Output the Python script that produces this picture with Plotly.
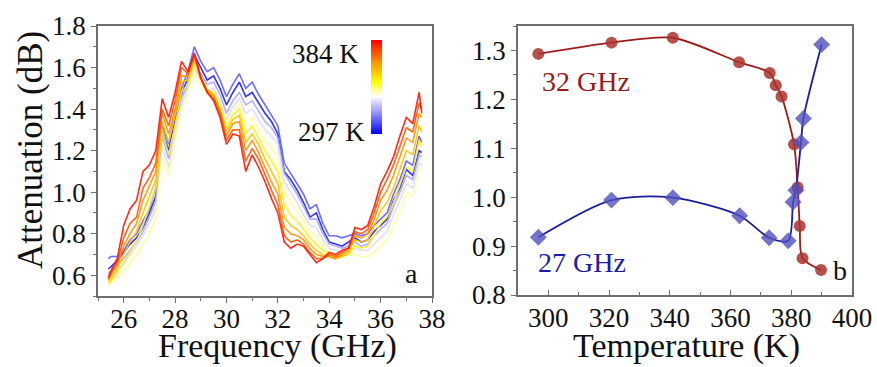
import numpy as np
import plotly.graph_objects as go

# ---------------- Panel a: attenuation spectra ----------------
freq = [25.4, 25.5, 25.75, 26.0, 26.25, 26.5, 26.75, 27.0, 27.25, 27.5, 27.75, 28.0,
        28.25, 28.5, 28.75, 29.0, 29.25, 29.5, 29.75, 30.0, 30.25, 30.5, 30.75, 31.0,
        31.25, 31.5, 31.75, 32.0, 32.25, 32.5, 32.75, 33.0, 33.25, 33.5, 33.75, 34.0,
        34.25, 34.5, 34.75, 35.0, 35.25, 35.5, 35.75, 36.0, 36.25, 36.5, 36.75, 37.0,
        37.25, 37.5, 37.6]

att_297 = [.63, .64, .67, .71, .75, .78, .83, .90, .98, 1.30, 1.20, 1.35, 1.47, 1.55, 1.66, 1.60, 1.54,
           1.56, 1.50, 1.42, 1.48, 1.53, 1.46, 1.48, 1.43, 1.38, 1.34, 1.28, 1.10, 1.06, 1.01, .95, .88,
           .90, .82, .76, .75, .74, .76, .78, .76, .77, .81, .84, .87, .96, 1.02, 1.11, 1.08, 1.20, 1.19]
att_321 = [.68, .69, .69, .72, .77, .80, .86, .92, 1.02, 1.33, 1.23, 1.38, 1.50, 1.58, 1.70, 1.63, 1.58,
           1.60, 1.54, 1.46, 1.52, 1.57, 1.50, 1.53, 1.47, 1.42, 1.37, 1.32, 1.14, 1.09, 1.04, .99, .92,
           .94, .85, .79, .79, .78, .79, .80, .79, .80, .84, .87, .90, .99, 1.06, 1.15, 1.13, 1.27, 1.24]
att_341 = [.61, .62, .65, .68, .72, .76, .81, .88, .96, 1.27, 1.16, 1.32, 1.45, 1.52, 1.64, 1.57, 1.52,
           1.53, 1.47, 1.38, 1.44, 1.48, 1.42, 1.44, 1.39, 1.34, 1.31, 1.26, 1.09, 1.04, .99, .93, .87,
           .87, .80, .75, .74, .73, .74, .76, .74, .75, .79, .82, .85, .93, 1.00, 1.08, 1.06, 1.18, 1.17]
att_363 = [.58, .59, .62, .66, .70, .74, .79, .85, .92, 1.22, 1.12, 1.28, 1.42, 1.50, 1.60, 1.54, 1.49,
           1.50, 1.44, 1.35, 1.41, 1.45, 1.38, 1.40, 1.35, 1.30, 1.27, 1.23, 1.05, 1.00, .95, .89, .84,
           .83, .77, .73, .72, .71, .72, .73, .72, .72, .75, .78, .81, .89, .96, 1.04, 1.02, 1.14, 1.13]
att_373 = [.55, .56, .59, .62, .66, .70, .75, .80, .88, 1.17, 1.08, 1.25, 1.40, 1.47, 1.57, 1.52, 1.47,
           1.48, 1.42, 1.33, 1.39, 1.43, 1.32, 1.36, 1.30, 1.25, 1.21, 1.17, 1.00, .95, .91, .86, .81,
           .79, .74, .71, .70, .69, .70, .70, .69, .69, .71, .74, .77, .84, .91, 1.00, .98, 1.11, 1.10]
att_377 = [.56, .57, .61, .66, .71, .76, .84, .93, 1.02, 1.30, 1.18, 1.32, 1.48, 1.52, 1.62, 1.54, 1.49,
           1.48, 1.41, 1.31, 1.37, 1.40, 1.28, 1.32, 1.26, 1.20, 1.15, 1.10, .94, .89, .86, .82, .78,
           .75, .72, .70, .69, .69, .70, .74, .73, .74, .79, .85, .88, .95, 1.03, 1.12, 1.10, 1.25, 1.22]
att_379 = [.57, .58, .63, .70, .76, .81, .90, .98, 1.06, 1.34, 1.24, 1.37, 1.53, 1.54, 1.64, 1.55, 1.49,
           1.47, 1.40, 1.29, 1.35, 1.37, 1.24, 1.28, 1.23, 1.16, 1.10, 1.04, .88, .84, .82, .79, .75,
           .72, .70, .69, .68, .69, .71, .77, .76, .77, .84, .91, .95, 1.02, 1.11, 1.20, 1.18, 1.32, 1.29]
att_381 = [.58, .60, .65, .74, .80, .85, .96, 1.03, 1.10, 1.38, 1.28, 1.40, 1.56, 1.56, 1.65, 1.55, 1.49,
           1.46, 1.39, 1.27, 1.33, 1.34, 1.20, 1.25, 1.19, 1.12, 1.05, .99, .83, .80, .79, .77, .73,
           .70, .69, .69, .68, .70, .72, .79, .78, .80, .87, .96, 1.01, 1.08, 1.17, 1.26, 1.24, 1.38, 1.36]
att_383 = [.58, .61, .66, .78, .85, .88, 1.02, 1.07, 1.14, 1.40, 1.32, 1.44, 1.60, 1.57, 1.66, 1.55, 1.48,
           1.45, 1.38, 1.25, 1.30, 1.30, 1.15, 1.21, 1.16, 1.08, 1.01, .94, .79, .76, .77, .75, .71,
           .68, .68, .70, .69, .71, .73, .81, .80, .82, .90, 1.00, 1.06, 1.13, 1.22, 1.31, 1.29, 1.43, 1.40]
att_384 = [.59, .62, .68, .84, .92, .96, 1.10, 1.13, 1.20, 1.45, 1.36, 1.48, 1.63, 1.58, 1.67, 1.55, 1.48,
           1.44, 1.36, 1.23, 1.28, 1.27, 1.10, 1.18, 1.12, 1.05, .97, .90, .76, .73, .75, .74, .70,
           .66, .68, .71, .70, .72, .73, .83, .82, .84, .93, 1.04, 1.10, 1.17, 1.27, 1.36, 1.33, 1.48, 1.38]

spectra = [att_297, att_321, att_341, att_363, att_373, att_377, att_379, att_381, att_383, att_384]
spectra_colors = ["#1c1cff", "#5e5eff", "#a8a8ff", "#dcdcfa", "#ffff9a", "#ffef1a",
                  "#ffc400", "#ff9400", "#ff5a00", "#ff1400"]

# colour bar of panel a (temperature scale)
cbar_min, cbar_max = 297, 384
cbar_scale = [[0.0, "#0000ff"], [0.2, "#8484ff"], [0.4, "#ffffff"], [0.55, "#ffff00"],
              [0.75, "#ff9a00"], [1.0, "#ff0000"]]
cbar_levels = np.linspace(cbar_min, cbar_max, 88)

# ---------------- Panel b: attenuation vs temperature ----------------
temp_32 = [296.7, 320.8, 341.0, 362.8, 372.9, 374.9, 376.8, 380.9, 382.1, 382.8, 383.7, 389.8]
att_32 = [1.293, 1.316, 1.326, 1.276, 1.254, 1.229, 1.206, 1.108, 1.020, 0.941, 0.875, 0.851]
temp_27 = [296.7, 320.8, 341.0, 363.0, 372.7, 379.0, 380.6, 381.5, 383.2, 384.0, 390.0]
att_27 = [0.918, 0.994, 0.999, 0.962, 0.917, 0.911, 0.990, 1.014, 1.112, 1.161, 1.312]

FONT = "Times New Roman, Liberation Serif, DejaVu Serif, serif"
W, H = 877, 367
AX = "#6e6e6e"

fig = go.Figure()

for vals, col in zip(spectra, spectra_colors):
    fig.add_trace(go.Scatter(x=freq, y=vals, mode="lines", line=dict(color=col, width=1.6),
                             opacity=0.9, showlegend=False, xaxis="x", yaxis="y", hoverinfo="skip"))

# gradient bar drawn as a one-column heatmap on its own small axes
fig.add_trace(go.Heatmap(z=[[v] for v in cbar_levels], x=[0], y=list(cbar_levels),
                         colorscale=cbar_scale, zmin=cbar_min, zmax=cbar_max, showscale=False,
                         xaxis="x3", yaxis="y3", hoverinfo="skip"))

# panel b fits (smooth lines) and points
fig.add_trace(go.Scatter(x=temp_32, y=att_32, mode="lines", line=dict(color="#a01c1c", width=1.8,
                         shape="spline", smoothing=0.8), showlegend=False, xaxis="x2", yaxis="y2"))
fig.add_trace(go.Scatter(x=temp_27, y=att_27, mode="lines", line=dict(color="#1c1c9c", width=1.8,
                         shape="spline", smoothing=0.8), showlegend=False, xaxis="x2", yaxis="y2"))
fig.add_trace(go.Scatter(x=temp_32, y=att_32, mode="markers",
                         marker=dict(symbol="circle", size=12, color="rgba(170,50,45,0.85)"),
                         showlegend=False, xaxis="x2", yaxis="y2"))
fig.add_trace(go.Scatter(x=temp_27, y=att_27, mode="markers",
                         marker=dict(symbol="diamond", size=13, color="rgba(80,80,190,0.8)"),
                         showlegend=False, xaxis="x2", yaxis="y2"))

TICKFONT = dict(family=FONT, size=27, color="#111")
axis_common = dict(showgrid=False, zeroline=False, showline=True, linecolor=AX, linewidth=1.5,
                   mirror=True, ticklen=5, tickwidth=1.2, tickcolor=AX, tickfont=TICKFONT,
                   automargin=False)
hidden = dict(visible=False, showgrid=False, zeroline=False, fixedrange=True, automargin=False)

fig.update_layout(
    template="none",
    width=W, height=H, margin=dict(l=0, r=0, t=0, b=0, autoexpand=False),
    font=dict(family=FONT, size=27, color="#111"),
    paper_bgcolor="white", plot_bgcolor="white",
    xaxis=dict(domain=[98 / W, 432 / W], range=[25, 38], tickvals=[26, 28, 30, 32, 34, 36, 38],
               ticks="outside", ticklabelstandoff=-7,
               minor=dict(dtick=1, tick0=25, ticks="outside", ticklen=3, tickcolor=AX),
               anchor="y", **axis_common),
    yaxis=dict(domain=[1 - 296 / H, 1 - 26 / H], range=[0.5, 1.8],
               tickvals=[0.6, 0.8, 1.0, 1.2, 1.4, 1.6, 1.8], ticktext=["0.6", "0.8", "1.0", "1.2", "1.4", "1.6", "1.8"],
               ticks="outside",
               minor=dict(dtick=0.1, tick0=0.5, ticks="outside", ticklen=3, tickcolor=AX),
               anchor="x", **axis_common),
    xaxis2=dict(domain=[518 / W, 852 / W], range=[290, 400], tickvals=[300, 320, 340, 360, 380, 400],
                ticks="inside", ticklabelstandoff=-2,
                minor=dict(dtick=10, tick0=290, ticks="inside", ticklen=3, tickcolor=AX),
                anchor="y2", **axis_common),
    yaxis2=dict(domain=[1 - 295 / H, 1 - 26 / H], range=[0.8, 1.35],
                tickvals=[0.8, 0.9, 1.0, 1.1, 1.2, 1.3], ticktext=["0.8", "0.9", "1.0", "1.1", "1.2", "1.3"],
                ticks="outside",
                minor=dict(dtick=0.05, tick0=0.8, ticks="outside", ticklen=3, tickcolor=AX),
                anchor="x2", **axis_common),
    xaxis3=dict(domain=[371 / W, 382 / W], anchor="y3", **hidden),
    yaxis3=dict(domain=[1 - 134 / H, 1 - 40 / H], anchor="x3",
                range=[cbar_min, cbar_max], **hidden),
)

def ann(text, x, y, size=28, color="#111", xanchor="center", angle=0):
    fig.add_annotation(text=text, x=x / W, y=1 - y / H, xref="paper", yref="paper",
                       showarrow=False, xanchor=xanchor, yanchor="middle", textangle=angle,
                       font=dict(family=FONT, size=size, color=color))

ann("Attenuation (dB)", 30, 150, size=35, angle=-90)
ann("Frequency (GHz)", 277, 346, size=34)
ann("Temperature (K)", 686, 346, size=34)
ann("384 K", 361, 54, size=27, xanchor="right")
ann("297 K", 367, 132, size=27, xanchor="right")
ann("a", 411, 273, size=28)
ann("32 GHz", 586, 81, size=28, color="#9a1a1a")
ann("27 GHz", 582, 262, size=28, color="#1c1ca8")
ann("b", 840, 270, size=28)

fig.write_html("out.html", config={"displayModeBar": False},
               post_script="document.body.style.margin='0';document.body.style.overflow='hidden';")
